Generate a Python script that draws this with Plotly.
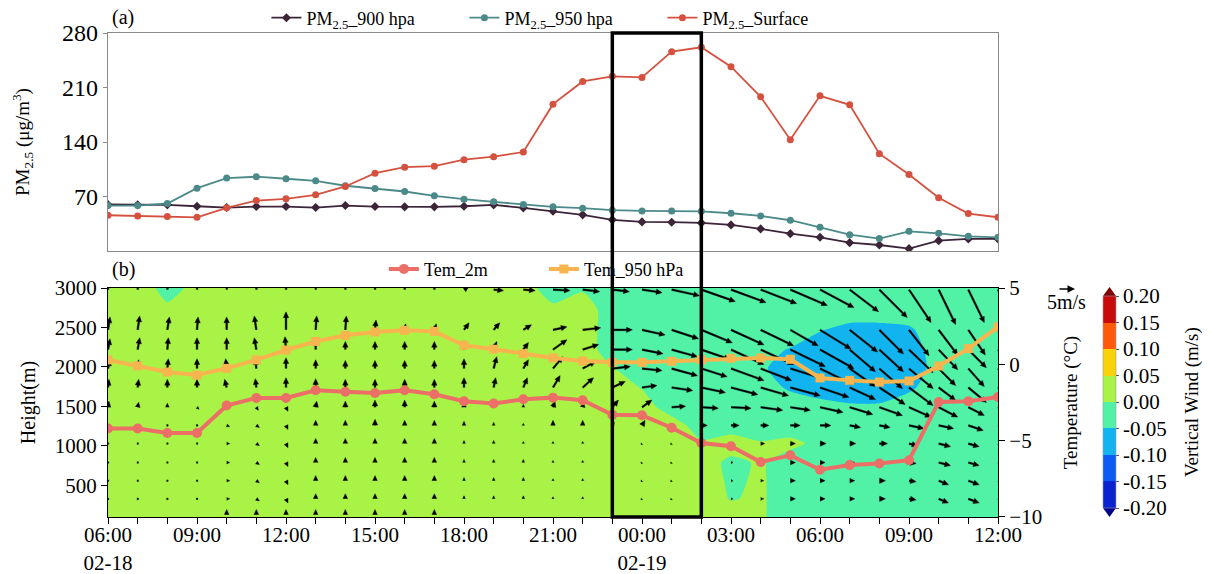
import math
import plotly.graph_objects as go

# ---------------- data ----------------
hours = list(range(31))  # hours since 02-18 06:00
x_tick_vals = [0, 3, 6, 9, 12, 15, 18, 21, 24, 27, 30]
x_tick_text = ["06:00<br>02-18", "09:00", "12:00", "15:00", "18:00", "21:00",
               "00:00<br>02-19", "03:00", "06:00", "09:00", "12:00"]
highlight = [17, 20]  # 23:00 -> 02:00

pm_900 = [59.7, 59.3, 59.3, 57.5, 55.8, 57.1, 57.1, 55.8, 58.4, 57.1, 56.7, 56.7, 57.5, 59.3, 55.4, 51.1,
          46.4, 40.0, 37.4, 37.0, 36.1, 33.5, 28.4, 22.3, 17.6, 10.7, 7.7, 3.0, 13.3, 15.5, 15.5]
pm_950 = [58.4, 58.4, 61.0, 80.7, 93.6, 95.4, 92.8, 90.2, 83.8, 80.3, 76.4, 70.9, 66.5, 63.1, 59.7, 56.7,
          55.0, 52.4, 51.5, 51.5, 51.0, 48.5, 45.1, 39.5, 30.4, 21.0, 15.9, 25.3, 22.7, 18.8, 17.6]
pm_sfc = [45.9, 45.1, 44.2, 43.3, 55.4, 64.8, 67.0, 72.1, 82.9, 100.0, 107.7, 109.0, 117.3, 121.2, 127.1, 188.6,
          217.8, 224.3, 223.0, 256.0, 261.7, 236.7, 198.0, 143.0, 199.3, 187.7, 125.0, 98.3, 68.3, 48.1, 43.3]

tem_2m = [-4.2, -4.2, -4.5, -4.5, -2.7, -2.2, -2.2, -1.7, -1.8, -1.88, -1.7, -1.96, -2.42, -2.57, -2.29, -2.18,
          -2.35, -3.3, -3.34, -4.15, -5.15, -5.37, -6.4, -5.96, -6.9, -6.6, -6.5, -6.28, -2.47, -2.42, -2.14]
tem_950 = [0.29, -0.1, -0.5, -0.7, -0.26, 0.29, 0.94, 1.5, 1.9, 2.12, 2.23, 2.16, 1.25, 0.99, 0.70, 0.42,
           0.22, 0.13, 0.13, 0.2, 0.3, 0.4, 0.42, 0.33, -0.89, -1.05, -1.16, -1.09, -0.11, 1.03, 2.45]

# vertical wind (m/s) grid: rows from top (3000 m) to bottom (100 m), columns = hours
w_heights = [3000, 2730, 2470, 2220, 1980, 1740, 1490, 1260, 1030, 790, 560, 330, 100]
G, A = 0.02, -0.02
w_rows = [
    [G, .03, -.02, .015] + [G] * 11 + [-.025, -.005] + [A] * 14,
    [G, G, .01] + [G] * 12 + [.01, G] + [A] * 7 + [-.03, -.03, -.03, -.03] + [A] * 3,
    [G] * 17 + [A] * 6 + [-.03, -.048, -.06, -.06, -.055, -.03, A, A],
    [G] * 17 + [A] * 5 + [-.04, -.052, -.07, -.075, -.075, -.065, -.035, A, A],
    [G] * 17 + [.002] + [A] * 4 + [-.045, -.065, -.08, -.08, -.08, -.065, -.04, A, A],
    [G] * 18 + [-.002] + [A] * 3 + [-.035, -.055, -.07, -.07, -.07, -.055, -.035, A, A],
    [G] * 19 + [A] * 3 + [-.025, -.03, -.035, -.045, -.045, -.035, -.025, A, A],
    [G] * 20 + [A] * 11,
    [G] * 20 + [.005, .02, .003, .01, -.01] + [A] * 6,
    [G] * 21 + [-.01, .005] + [A] * 8,
    [G] * 21 + [-.006, .005] + [A] * 8,
    [G] * 21 + [-.002, .005] + [A] * 8,
    [G] * 22 + [.005] + [A] * 8,
]

# wind vectors (m/s): rows of tail heights, columns = hours
arrow_heights = [2980, 2470, 2220, 1980, 1740, 1490, 1260, 1030, 790, 560, 330, 130]
U = [
    [.3] * 12 + [1.5, 2.9, 3.5, 5.0, 5.0, 5.0, 5.9, 8.2, 10.0, 10.3, 10.6, 10.9, 10.0, 8.5, 8.2, 6.5, 5.0, 4.7, 4.4],
    [.6, .6, .6, .3, 0, -.6, 0, .3, .3, .3, .3, .6, 1.5, 1.8, 2.4, 4.1, 5.3, 5.9, 6.8, 7.9, 9.1, 9.7, 9.7, 8.2, 9.1, 8.2, 7.1, 5.9, 5.6, 5.0, 4.7],
    [.6, .6, .3, 0, 0, -.6, -.3, 0, 0, 0, 0, 0, 0, .9, 1.5, 4.1, 4.7, 5.9, 6.2, 7.6, 8.5, 9.7, 9.7, 10.3, 10.0, 7.6, 7.1, 7.1, 5.6, 5.3, 5.0],
    [.6, .3, .3, 0, -.3, -.3, 0, 0, 0, 0, 0, 0, 0, .9, 1.5, 2.9, 3.8, 5.3, 5.9, 7.6, 7.6, 9.7, 9.1, 9.4, 9.7, 7.6, 6.8, 7.1, 5.0, 4.7, 4.4],
    [.3, .3, 0, 0, -.6, -.3, 0, 0, 0, 0, 0, 0, 0, .6, 1.2, 2.1, 3.2, 3.8, 4.4, 6.2, 7.1, 7.9, 8.2, 8.8, 8.5, 7.6, 7.6, 7.1, 5.0, 5.3, 5.0],
    [.3, .3, 0, .6, .3, .6, .6, .3, 0, 0, 0, 0, 0, 0, 0, .6, .3, 1.8, 2.9, 4.1, 5.0, 5.9, 6.5, 5.9, 6.8, 6.8, 6.8, 6.5, 5.6, 4.7, 4.4],
    [0, 0, 0, 0, .9, .9, .6, 0, 0, 0, 0, 0, 0, 0, 0, 0, 0, .6, .9, .9, 1.8, 2.4, 2.4, 2.9, 3.2, 3.2, 3.2, 4.4, 4.4, 4.4, 4.1],
    [0, 0, 0, 0, .9, .9, .6, 0, 0, 0, 0, 0, 0, 0, 0, 0, 0, 0, -.3, -.3, .6, .9, 1.2, 1.5, 1.8, 1.8, 2.4, 2.6, 3.5, 3.2, 3.2],
    [0, 0, 0, 0, .9, .9, .6, 0, 0, 0, 0, 0, 0, 0, 0, 0, 0, 0, -.3, -.3, .3, .6, .9, 1.5, 1.5, 1.5, 1.8, 2.1, 3.5, 3.2, 3.2],
    [0, 0, 0, 0, .9, .9, .6, 0, 0, 0, 0, 0, 0, 0, 0, 0, 0, 0, -.3, -.3, .3, .6, .9, 1.5, 1.5, 1.5, 1.8, 2.1, 2.9, 3.2, 3.2],
    [0, 0, 0, 0, .9, .9, .6, 0, 0, 0, 0, 0, 0, 0, 0, 0, 0, 0, -.3, -.3, .3, .6, .9, 1.5, 1.5, 1.5, 1.8, 2.1, 2.9, 3.2, 3.2],
    [0] * 31,
]
V = [
    [4.0] * 12 + [1.0, -.3, -.3, -.3, -.6, -.6, -.9, -1.8, -3.5, -3.8, -4.1, -4.7, -5.3, -6.5, -8.2, -9.7, -10.3, -9.7, -8.8],
    [3.8, 4.1, 3.8, 3.8, 3.8, 4.1, 5.3, 4.1, 4.1, 2.9, 1.8, 1.8, 2.1, 2.1, 1.5, .9, .6, 0, -1.5, -2.6, -3.8, -4.4, -4.7, -4.7, -5.6, -6.5, -7.1, -7.6, -7.4, -7.4, -7.1],
    [3.2, 3.5, 3.5, 3.5, 3.5, 3.5, 3.8, 2.9, 2.4, 2.4, 2.4, 2.4, 2.6, 2.4, 2.1, 2.9, 1.5, 0, -1.2, -2.1, -2.9, -4.4, -4.4, -5.0, -5.6, -6.5, -6.5, -6.8, -5.9, -5.3, -5.0],
    [2.6, 2.6, 2.9, 2.9, 2.9, 2.9, 3.2, 2.6, 2.4, 2.4, 2.4, 2.4, 2.9, 3.5, 2.6, 3.5, 2.1, .6, -.6, -2.1, -2.4, -3.5, -3.5, -2.9, -4.7, -5.3, -5.9, -5.9, -5.0, -5.3, -5.0],
    [2.4, 2.4, 2.4, 2.4, 2.4, 2.6, 2.9, 2.6, 2.4, 2.4, 2.4, 2.4, 2.9, 2.9, 2.9, 3.5, 2.9, 1.8, .6, -.9, -1.5, -2.1, -2.4, -2.4, -2.9, -3.5, -5.0, -5.3, -3.8, -4.4, -4.1],
    [1.8, 1.5, 1.2, -.6, 1.2, -.9, -1.2, 1.8, 1.8, 2.1, 2.1, 1.8, 1.5, 1.2, .9, 1.8, 1.5, 2.1, 2.1, .3, -.3, -.3, -.9, -.9, -1.5, -2.1, -2.4, -2.9, -2.9, -2.4, -2.4],
    [.3, .3, .2, .2, -.3, -.6, -1.2, 1.5, 1.5, 1.8, 1.5, 1.5, 1.2, .9, .6, 1.5, 1.5, .9, 1.5, 0, 0, 0, 0, 0, 0, -.6, -.6, -.9, -.9, -1.5, -1.2],
    [.2, .3, .3, .3, 0, -.6, -1.2, 1.5, 1.5, 1.5, 1.5, 1.5, .9, .9, .6, .6, .6, .3, -.3, -.3, 0, 0, 0, 0, 0, 0, 0, -.6, -.9, -.9, -.9],
    [.3, .3, .3, .3, 0, -.6, -1.2, 1.5, 1.5, 1.5, 1.5, 1.5, .9, .9, .9, .6, .6, .6, -.3, -.3, -.3, 0, 0, 0, 0, 0, 0, -.3, -.9, -.9, -.9],
    [.3, .3, .3, .3, 0, -.6, -1.2, 1.5, 1.5, 1.5, 1.5, 1.5, .9, .9, .9, .6, .6, .6, -.3, -.3, -.3, 0, 0, 0, 0, 0, 0, -.3, -1.2, -1.2, -1.2],
    [.3, .3, .3, .3, 0, -.6, -1.2, 1.5, 1.5, 1.5, 1.5, 1.5, .9, .9, .9, .6, .6, .6, -.3, -.3, -.3, 0, 0, 0, 0, 0, 0, -.3, -1.2, -1.2, -1.2],
    [0, 0, 0, 0, 1.5, 1.5, 1.5, 1.5, 1.5, 1.5, 1.5, 1.5] + [0] * 19,
]
key_speed = 5  # m/s reference arrow
w_levels = [-0.2, -0.15, -0.1, -0.05, 0.0, 0.05, 0.1, 0.15, 0.2]

# ---------------- layout geometry ----------------
FIG_W, FIG_H = 1212, 574
ML, MR, MT, MB = 108, 214, 33, 57
TOP_DOM = [0.5496, 1.0]
BOT_DOM = [0.0, 0.4731]
X_RANGE = [0, 30]
H_RANGE = [100, 3000]
T_RANGE = [-10, 5]
PX_PER_MS = 3.4  # arrow length scale

plot_w = FIG_W - ML - MR
plot_h = FIG_H - MT - MB
bot_h = plot_h * (BOT_DOM[1] - BOT_DOM[0])
kx = (X_RANGE[1] - X_RANGE[0]) / plot_w     # hours per px
ky = (H_RANGE[1] - H_RANGE[0]) / bot_h      # metres per px

FONT = "Liberation Serif, Times New Roman, serif"

# ---------------- arrows as polygons ----------------
ax_x, ax_y = [], []
def add_poly(t, h, pts):
    for px, py in pts:
        ax_x.append(t + px * kx)
        ax_y.append(h + py * ky)
    ax_x.append(None)
    ax_y.append(None)

SW, HL, HW = 0.85, 5.8, 2.7
for i, h in enumerate(arrow_heights):
    for j, t in enumerate(hours):
        dx = U[i][j] * PX_PER_MS
        dy = V[i][j] * PX_PER_MS
        L = math.hypot(dx, dy)
        if L < 0.5:
            continue
        ux, uy = dx / L, dy / L
        nx, ny = -uy, ux
        if L < 1.4:
            r = 0.8
            pts = [(-r, -r), (r, -r), (r, r), (-r, r)]
        elif L <= HL:
            s = L / HL
            hw = max(HW * s, 1.2)
            pts = [(nx * hw, ny * hw), (dx, dy), (-nx * hw, -ny * hw)]
        else:
            bx, by = ux * (L - HL), uy * (L - HL)
            pts = [(nx * SW, ny * SW), (bx + nx * SW, by + ny * SW), (bx + nx * HW, by + ny * HW),
                   (dx, dy), (bx - nx * HW, by - ny * HW), (bx - nx * SW, by - ny * SW),
                   (-nx * SW, -ny * SW)]
        add_poly(t, h, pts)

# ---------------- colours ----------------
ext_low, ext_high = "#00008c", "#7f0000"
band_colors = ["#0a22d0", "#0a5cf2", "#12b4f0", "#52f2a6", "#a9f246", "#f8d20a", "#ff5a0a", "#c80a0a"]
all_colors = [ext_low] + band_colors + [ext_high]
cscale = []
n = len(all_colors)
for k, c in enumerate(all_colors):
    lo = 0 if k == 0 else (k - 0.5) / (n - 1)
    hi = 1 if k == n - 1 else (k + 0.5) / (n - 1)
    cscale += [[lo, c], [hi, c]]
cb_scale = []
m = len(band_colors)
for k, c in enumerate(band_colors):
    cb_scale += [[k / m, c], [(k + 1) / m, c]]

fig = go.Figure()

# ---------------- panel (a) ----------------
fig.add_trace(go.Scatter(x=hours, y=pm_900, mode="lines+markers", name="PM<sub>2.5</sub>_900 hpa",
                         line=dict(color="#3d2539", width=1.8), marker=dict(symbol="diamond", size=7),
                         xaxis="x", yaxis="y", legend="legend"))
fig.add_trace(go.Scatter(x=hours, y=pm_950, mode="lines+markers", name="PM<sub>2.5</sub>_950 hpa",
                         line=dict(color="#4b8a88", width=1.8), marker=dict(symbol="circle", size=7),
                         xaxis="x", yaxis="y", legend="legend"))
fig.add_trace(go.Scatter(x=hours, y=pm_sfc, mode="lines+markers", name="PM<sub>2.5</sub>_Surface",
                         line=dict(color="#d5513f", width=1.8), marker=dict(symbol="circle", size=7),
                         xaxis="x", yaxis="y", legend="legend"))

# ---------------- panel (b) ----------------
fig.add_trace(go.Contour(
    x=hours, y=w_heights[::-1], z=w_rows[::-1], xaxis="x2", yaxis="y2",
    autocontour=False,
    contours=dict(start=-0.2, end=0.2, size=0.05, coloring="fill", showlines=False),
    line=dict(width=0, smoothing=0.6),
    colorscale=cscale, showscale=False, hoverinfo="skip",
))
fig.add_trace(go.Scatter(x=ax_x, y=ax_y, mode="lines", fill="toself", fillcolor="black",
                         line=dict(color="black", width=0.4), hoverinfo="skip", showlegend=False,
                         xaxis="x2", yaxis="y2"))
fig.add_trace(go.Scatter(x=hours, y=tem_2m, mode="lines+markers", name="Tem_2m",
                         line=dict(color="#ec6f67", width=4), marker=dict(symbol="circle", size=10),
                         xaxis="x2", yaxis="y3", legend="legend2"))
fig.add_trace(go.Scatter(x=hours, y=tem_950, mode="lines+markers", name="Tem_950 hPa",
                         line=dict(color="#f8b54f", width=4), marker=dict(symbol="square", size=9),
                         xaxis="x2", yaxis="y3", legend="legend2"))

# colorbar carrier (invisible marker)
CB_Y, CB_LEN, CB_X, CB_T = 0.2376, 0.438, 1.118, 13
fig.add_trace(go.Scatter(
    x=[hours[0]], y=[H_RANGE[0] - 500], mode="markers", showlegend=False, hoverinfo="skip",
    xaxis="x2", yaxis="y2",
    marker=dict(color=[0], cmin=w_levels[0], cmax=w_levels[-1], colorscale=cb_scale, opacity=0,
                showscale=True,
                colorbar=dict(x=CB_X, xanchor="left", y=CB_Y, yanchor="middle", len=CB_LEN, lenmode="fraction",
                              xpad=0, ypad=0,
                              thickness=CB_T, outlinewidth=0.6, outlinecolor="#9a9ab0",
                              tickmode="array", tickvals=w_levels, ticktext=["%.2f" % v for v in w_levels],
                              ticks="outside", ticklen=3, tickcolor="#555",
                              tickfont=dict(family=FONT, size=21, color="black")))))

tick_font = dict(family=FONT, size=21, color="black")
fig.update_layout(
    width=FIG_W, height=FIG_H, autosize=False,
    margin=dict(l=ML, r=MR, t=MT, b=MB, autoexpand=False),
    paper_bgcolor="white", plot_bgcolor="white",
    font=dict(family=FONT, color="black"),
    xaxis=dict(domain=[0, 1], range=X_RANGE, anchor="y", showticklabels=False, ticks="",
               showgrid=False, zeroline=False, showline=True, mirror=True, linecolor="#8a8a8a", linewidth=1.2),
    yaxis=dict(domain=TOP_DOM, range=[0, 280], tickvals=[70, 140, 210, 280], anchor="x",
               ticks="outside", ticklen=4, tickcolor="#8a8a8a", showgrid=False, zeroline=False,
               showline=True, mirror=True, linecolor="#8a8a8a", linewidth=1.2,
               tickfont=dict(family=FONT, size=24, color="black"),
               title=dict(text="PM<sub>2.5</sub> (μg/m<sup>3</sup>)", standoff=27,
                          font=dict(family=FONT, size=19, color="black"))),
    xaxis2=dict(domain=[0, 1], range=X_RANGE, anchor="y2", tickmode="array", tickvals=x_tick_vals,
                ticktext=x_tick_text, ticks="outside", ticklen=6, tickcolor="black", ticklabelstandoff=-7,
                minor=dict(tick0=0, dtick=1, ticks="outside", ticklen=6, tickcolor="black"),
                showgrid=False, zeroline=False, showline=True, mirror=True, linecolor="black", linewidth=1.2,
                tickfont=tick_font),
    yaxis2=dict(domain=BOT_DOM, range=H_RANGE, anchor="x2", tickvals=[500, 1000, 1500, 2000, 2500, 3000],
                ticks="outside", ticklen=6, tickcolor="black", showgrid=False, zeroline=False,
                showline=True, linecolor="black", linewidth=1.2,
                tickfont=dict(family=FONT, size=21, color="black"),
                title=dict(text="Height(m)", standoff=13, font=dict(family=FONT, size=20, color="black"))),
    yaxis3=dict(overlaying="y2", side="right", range=T_RANGE, anchor="x2", tickvals=[-10, -5, 0, 5],
                ticks="outside", ticklen=6, tickcolor="black", showgrid=False, zeroline=False,
                showline=True, linecolor="black", linewidth=1.2,
                tickfont=dict(family=FONT, size=21, color="black"),
                title=dict(text="Temperature (°C)", standoff=22, font=dict(family=FONT, size=19, color="black"))),
    legend=dict(orientation="h", x=0.178, y=1.031, xanchor="left", yanchor="middle",
                bgcolor="rgba(0,0,0,0)", font=dict(family=FONT, size=18, color="black"),
                entrywidth=153, entrywidthmode="pixels"),
    legend2=dict(orientation="h", x=0.31, y=0.512, xanchor="left", yanchor="middle",
                 bgcolor="rgba(0,0,0,0)", font=dict(family=FONT, size=18, color="black"),
                 entrywidth=115, entrywidthmode="pixels"),
    showlegend=True,
)

# highlight box
fig.add_shape(type="rect", xref="x2", yref="paper", x0=highlight[0], x1=highlight[1], y0=0, y1=1,
              line=dict(color="black", width=3.5), fillcolor="rgba(0,0,0,0)", layer="above")

# colorbar extension triangles (paper coords)
cb_x0 = CB_X
cb_x1 = cb_x0 + CB_T / plot_w
cb_top = CB_Y + CB_LEN / 2
cb_bot = CB_Y - CB_LEN / 2
tri = 9 / plot_h
fig.add_shape(type="path", xref="paper", yref="paper",
              path=f"M {cb_x0} {cb_top} L {cb_x1} {cb_top} L {(cb_x0 + cb_x1) / 2} {cb_top + tri} Z",
              fillcolor=ext_high, line=dict(width=0))
fig.add_shape(type="path", xref="paper", yref="paper",
              path=f"M {cb_x0} {cb_bot} L {cb_x1} {cb_bot} L {(cb_x0 + cb_x1) / 2} {cb_bot - tri} Z",
              fillcolor=ext_low, line=dict(width=0))
# colorbar title
fig.add_annotation(text="Vertical Wind (m/s)", xref="paper", yref="paper", x=(1192 - ML) / plot_w, y=CB_Y,
                   xanchor="center", yanchor="middle", textangle=-90, showarrow=False,
                   font=dict(family=FONT, size=19, color="black"))

# panel labels
fig.add_annotation(text="(a)", xref="paper", yref="paper", x=0.002, y=1.031, xanchor="left", yanchor="middle",
                   showarrow=False, font=dict(family=FONT, size=20, color="black"))
fig.add_annotation(text="(b)", xref="paper", yref="paper", x=0.002, y=0.512, xanchor="left", yanchor="middle",
                   showarrow=False, font=dict(family=FONT, size=20, color="black"))
# reference vector key
key_len_px = key_speed * PX_PER_MS
fig.add_annotation(text="", xref="paper", yref="paper", x=(1075 - ML) / plot_w, y=(FIG_H - MB - 289) / plot_h,
                   ax=-key_len_px, ay=0, showarrow=True, arrowhead=2, arrowsize=1, arrowwidth=1.5,
                   arrowcolor="black")
fig.add_annotation(text=f"{key_speed}m/s", xref="paper", yref="paper", x=(1066 - ML) / plot_w,
                   y=(FIG_H - MB - 302) / plot_h, xanchor="center", yanchor="middle", showarrow=False,
                   font=dict(family=FONT, size=20, color="black"))

fig.write_html("out.html", config={"displayModeBar": False},
               post_script="document.body.style.margin='0px';")
